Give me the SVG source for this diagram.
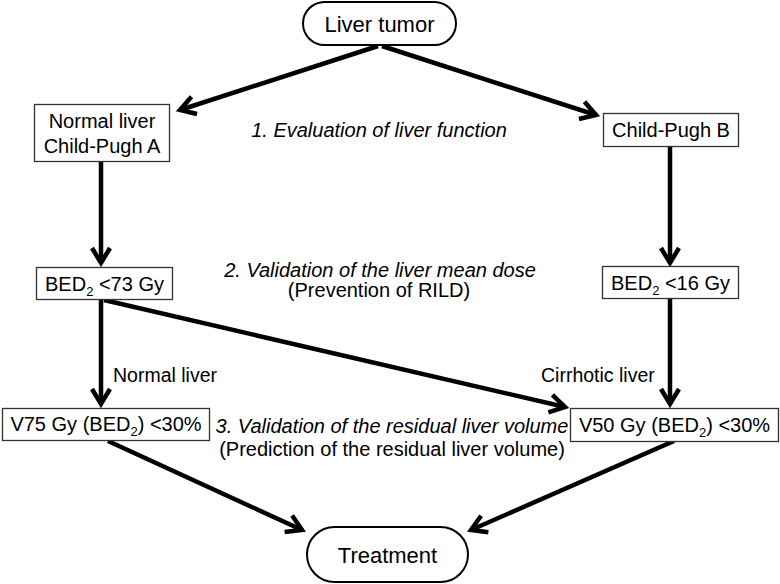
<svg xmlns="http://www.w3.org/2000/svg" width="780" height="584" viewBox="0 0 780 584">
<style>
text{font-family:"Liberation Sans",Arial,sans-serif;fill:#000;}
.n{font-size:20px;text-anchor:middle;}
.big{font-size:22px;text-anchor:middle;}
.lab{font-size:19.5px;}
.it{font-style:italic;}
.box{fill:#fff;stroke:#333;stroke-width:1.3;}
.pill{fill:#fff;stroke:#000;stroke-width:2;}
.ar{stroke:#000;stroke-width:4.5;fill:none;marker-end:url(#ah);}
</style>
<defs>
<marker id="ah" markerUnits="userSpaceOnUse" markerWidth="30" markerHeight="30" viewBox="-20 -15 30 30" refX="0" refY="0" orient="auto">
<path d="M-15,-9 L0,0 L-15,9" fill="none" stroke="#000" stroke-width="4.5" stroke-linejoin="miter"/>
</marker>
</defs>
<rect width="780" height="584" fill="#fff"/>
<g id="connectors">
<line class="ar" x1="378" y1="46" x2="180" y2="110"/>
<line class="ar" x1="382" y1="46" x2="596" y2="115"/>
<line class="ar" x1="101" y1="161" x2="101" y2="263"/>
<line class="ar" x1="670" y1="146" x2="670" y2="263"/>
<line class="ar" x1="101" y1="299" x2="101" y2="404"/>
<line class="ar" x1="104" y1="300" x2="565" y2="407"/>
<line class="ar" x1="670" y1="298" x2="670" y2="404"/>
<line class="ar" x1="108" y1="441" x2="302" y2="530"/>
<line class="ar" x1="674" y1="441" x2="471" y2="530"/>
</g>
<g id="liver-tumor">
<rect class="pill" x="303" y="2" width="153" height="43" rx="21.5"/>
<text class="big" x="379.5" y="32">Liver tumor</text>
</g>
<g id="normal-liver">
<rect class="box" x="34.5" y="104.5" width="135" height="57"/>
<text class="n" x="102" y="128">Normal liver</text>
<text class="n" x="102" y="153">Child-Pugh A</text>
</g>
<g id="child-pugh-b">
<rect class="box" x="603.5" y="113.5" width="135" height="33"/>
<text class="n" x="671" y="137">Child-Pugh B</text>
</g>
<g id="bed-73">
<rect class="box" x="36.5" y="267.5" width="136" height="32"/>
<text class="n" x="104.5" y="291">BED<tspan font-size="13" dy="5">2</tspan><tspan dy="-5"> &lt;73 Gy</tspan></text>
</g>
<g id="bed-16">
<rect class="box" x="602.5" y="266.5" width="136" height="32"/>
<text class="n" x="670.5" y="290">BED<tspan font-size="13" dy="5">2</tspan><tspan dy="-5"> &lt;16 Gy</tspan></text>
</g>
<g id="v75">
<rect class="box" x="2.5" y="408.5" width="207" height="32"/>
<text class="n" x="106" y="431">V75 Gy (BED<tspan font-size="13" dy="5">2</tspan><tspan dy="-5">) &lt;30%</tspan></text>
</g>
<g id="v50">
<rect class="box" x="570.5" y="408.5" width="208" height="33"/>
<text class="n" x="674.5" y="432">V50 Gy (BED<tspan font-size="13" dy="5">2</tspan><tspan dy="-5">) &lt;30%</tspan></text>
</g>
<g id="treatment">
<rect class="pill" x="307" y="527" width="161" height="55" rx="27.5"/>
<text class="big" x="387.5" y="563">Treatment</text>
</g>
<g id="labels">
<text class="n it" x="379" y="137">1. Evaluation of liver function</text>
<text class="n it" x="380" y="277">2. Validation of the liver mean dose</text>
<text class="n" x="379" y="297">(Prevention of RILD)</text>
<text class="lab" x="113" y="382">Normal liver</text>
<text class="lab" x="541" y="382">Cirrhotic liver</text>
<text class="n it" x="392" y="433">3. Validation of the residual liver volume</text>
<text class="n" x="392" y="456">(Prediction of the residual liver volume)</text>
</g>
</svg>
